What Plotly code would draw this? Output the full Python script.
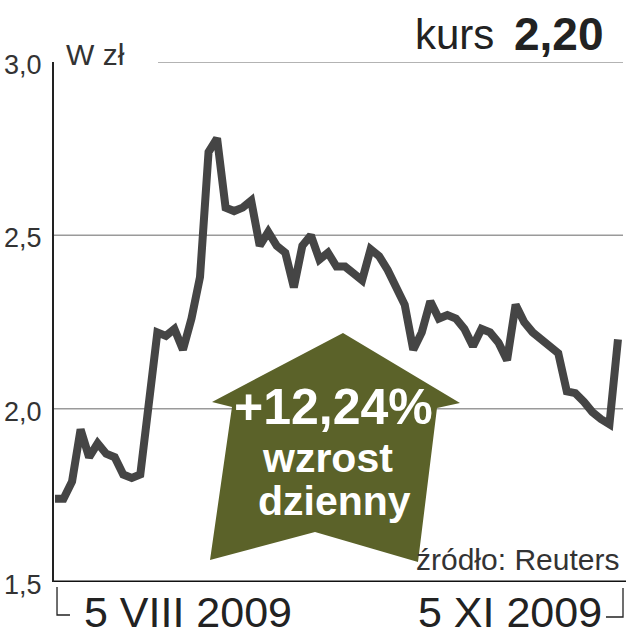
import pandas as pd
import plotly.graph_objects as go

# ---------- data ----------
# one close per trading day, 5 VIII 2009 .. 5 XI 2009 (zł)
trade_days = pd.bdate_range("2009-08-05", "2009-11-05").strftime("%Y-%m-%d").tolist()
close = [
    1.74, 1.74, 1.79, 1.94, 1.86, 1.90, 1.87, 1.86, 1.81, 1.80,
    1.81, 2.00, 2.22, 2.21, 2.23, 2.17, 2.26, 2.38, 2.74, 2.78,
    2.58, 2.57, 2.58, 2.60, 2.47, 2.51, 2.47, 2.45, 2.35, 2.47,
    2.50, 2.43, 2.45, 2.41, 2.41, 2.39, 2.37, 2.46, 2.44, 2.40,
    2.35, 2.30, 2.17, 2.22, 2.31, 2.26, 2.27, 2.26, 2.23, 2.18,
    2.23, 2.22, 2.19, 2.14, 2.30, 2.25, 2.22, 2.20, 2.18, 2.16,
    2.05, 2.045, 2.02, 1.99, 1.97, 1.955, 2.20,
]
y_ticks = [3.0, 2.5, 2.0, 1.5]
y_tick_text = ["3,0", "2,5", "2,0", "1,5"]
grid_full = [2.0, 2.5]
first_label = "5 VIII 2009"
last_label = "5 XI 2009"
kurs_text = "2,20"
change_text = "+12,24%"

W, H = 626, 640
L, R, T, B = 54, 3, 62, 58
PW, PH = W - L - R, H - T - B

FONT = "Liberation Sans, Arial, sans-serif"
INK = "#222222"
LINE = "#454545"
OLIVE = "#5b6229"


def px(x, y):
    """pixel position -> paper coords (for decorations only)"""
    return (x - L) / PW, (H - B - y) / PH


fig = go.Figure()
fig.add_trace(go.Scatter(
    x=trade_days, y=close, mode="lines",
    line=dict(color=LINE, width=8),
    hoverinfo="skip", showlegend=False, cliponaxis=False,
))

shapes = []
# gridlines
for g in grid_full:
    shapes.append(dict(type="line", xref="paper", yref="y", x0=0, x1=1, y0=g, y1=g,
                       line=dict(color="#9a9a9a", width=1.5), layer="below"))
x0, _ = px(158, 0)
shapes.append(dict(type="line", xref="paper", yref="y", x0=x0, x1=1, y0=3.0, y1=3.0,
                   line=dict(color="#9a9a9a", width=1.5), layer="below"))
# bold baseline
x1, _ = px(626, 0)
shapes.append(dict(type="line", xref="paper", yref="y", x0=0, x1=x1, y0=1.5, y1=1.5,
                   line=dict(color="#111111", width=3)))
# date brackets
for pts in ([(57, 587), (57, 615), (70, 615)], [(606, 617), (623, 617), (623, 588)]):
    p = [px(*q) for q in pts]
    path = "M " + " L ".join(f"{a:.4f},{b:.4f}" for a, b in p)
    shapes.append(dict(type="path", xref="paper", yref="paper", path=path,
                       line=dict(color=INK, width=1.3)))
# arrow
arrow_px = [(343, 333), (460, 403), (437, 408), (418, 562), (315, 532),
            (210, 560), (232, 407), (212, 402)]
p = [px(*q) for q in arrow_px]
shapes.append(dict(type="path", xref="paper", yref="paper",
                   path="M " + " L ".join(f"{a:.4f},{b:.4f}" for a, b in p) + " Z",
                   fillcolor=OLIVE, line=dict(width=0), layer="above"))

ann = []
for v, t in zip(y_ticks, y_tick_text):
    ann.append(dict(xref="paper", yref="y", x=0, y=v, text=t, showarrow=False,
                    xanchor="right", yanchor="middle", xshift=-10, yshift=-3,
                    font=dict(family=FONT, size=27, color="#333333")))


def label(x, y, text, size, anchor="center", bold=False, color=INK):
    xp, yp = px(x, y)
    if bold:
        text = f"<b>{text}</b>"
    ann.append(dict(xref="paper", yref="paper", x=xp, y=yp, text=text, showarrow=False,
                    xanchor=anchor, yanchor="middle",
                    font=dict(family=FONT, size=size, color=color)))


label(64, 54, "W zł", 30, "left", color="#333333")
label(496, 35, "kurs", 42, "right")
label(606, 34, kurs_text, 46, "right", bold=True)
label(82, 612, first_label, 43, "left")
label(604, 612, last_label, 43, "right")
label(621, 559, "źródło: Reuters", 30, "right", color="#333333")
label(333, 407, change_text, 50, bold=True, color="white")
label(327, 458, "wzrost", 41, bold=True, color="white")
label(334, 501, "dzienny", 41, bold=True, color="white")

fig.update_layout(
    width=W, height=H,
    margin=dict(l=L, r=R, t=T, b=B),
    plot_bgcolor="white", paper_bgcolor="white",
    shapes=shapes, annotations=ann,
    showlegend=False,
    xaxis=dict(type="category", range=[-0.117, 66.59], showgrid=False,
               showticklabels=False, ticks="", zeroline=False, fixedrange=True),
    yaxis=dict(range=[1.5, 3.0], showgrid=False, showticklabels=False, ticks="",
               zeroline=False, showline=True, linecolor=INK, linewidth=1.5,
               fixedrange=True),
)

# drop the browser's default body margin so the figure sits at (0, 0)
fig.write_html("out.html", config={"displayModeBar": False},
               post_script="document.body.style.margin='0';")
